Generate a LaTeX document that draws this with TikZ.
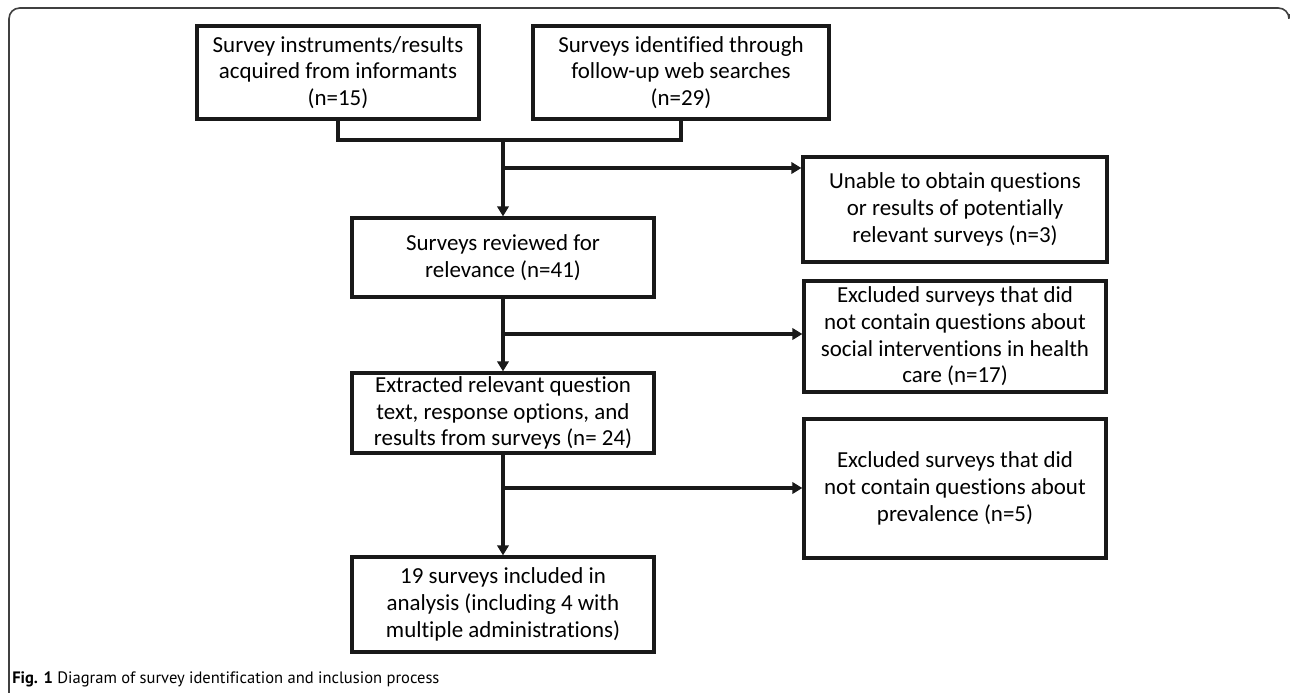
\documentclass[tikz,border=0pt]{standalone}
\usepackage{fontspec}
\setmainfont{Carlito}[Ligatures=NoCommon]
\newfontfamily\capfont{PT Sans}[Ligatures=NoCommon]
\usetikzlibrary{arrows.meta}
\begin{document}
\begin{tikzpicture}[x=0.75pt,y=-0.75pt,
  box/.style={draw=black!90, line width=2.4pt, align=center, inner sep=0pt,
    font=\fontsize{17.2}{20}\selectfont},
  conn/.style={draw=black!90, line width=2.8pt, line cap=rect, line join=miter},
  arr/.style={conn, -{Triangle[length=7.5pt,width=8.5pt]}}]
\useasboundingbox (0,0) rectangle (1290,693);
% frame
\draw[black!75, line width=1.2pt, rounded corners=8pt] (9,700) -- (9,8) -- (1289,8) -- (1289,14);
% nodes
\node[box, minimum width=211.5pt, minimum height=69.75pt] (A) at (338,72.5)
  {Survey instruments/results\\acquired from informants\\(n=15)};
\node[box, minimum width=222pt, minimum height=69.75pt] (B) at (681,72.5)
  {Surveys identified through\\follow-up web searches\\(n=29)};
\node[box, minimum width=228pt, minimum height=78.75pt] (C) at (955,209.5)
  {Unable to obtain questions\\or results of potentially\\relevant surveys (n=3)};
\node[box, minimum width=226.5pt, minimum height=59.25pt] (D) at (503,257.5)
  {Surveys reviewed for\\relevance (n=41)};
\node[box, minimum width=226.5pt, minimum height=83.25pt] (G) at (955,336.5)
  {Excluded surveys that did\\not contain questions about\\social interventions in health\\care (n=17)};
\node[box, minimum width=226.5pt, minimum height=60pt] (E) at (503,413)
  {Extracted relevant question\\text, response options, and\\results from surveys (n= 24)};
\node[box, minimum width=226.5pt, minimum height=104.25pt] (H) at (955,488.5)
  {Excluded surveys that did\\not contain questions about\\prevalence (n=5)};
\node[box, minimum width=226.5pt, minimum height=71.25pt] (F) at (503,604.5)
  {19 surveys included in\\analysis (including 4 with\\multiple administrations)};
% caption
\node[anchor=base west, inner sep=0pt, font=\capfont\fontsize{12.4}{14}\selectfont] (cap) at (12,683)
  {\textbf{Fig. 1} Diagram of survey identification and inclusion process};
% connectors
\coordinate (m) at (503,140);
\coordinate (b1) at (503,168);
\coordinate (b2) at (503,334);
\coordinate (b3) at (503,488);
\draw[conn] (A.south) |- (m) -| (B.south);
\draw[arr] (m) -- (D.north);
\draw[arr] (b1) -- (b1 -| C.west);
\draw[arr] (D.south) -- (E.north);
\draw[arr] (b2) -- (b2 -| G.west);
\draw[arr] (E.south) -- (F.north);
\draw[arr] (b3) -- (b3 -| H.west);
\end{tikzpicture}
\end{document}
